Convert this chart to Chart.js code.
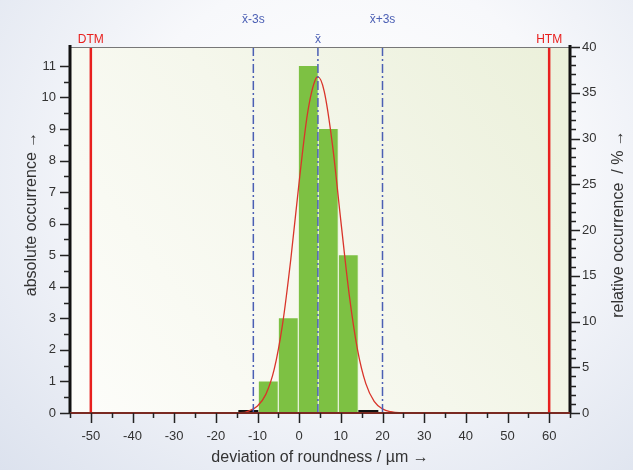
<!DOCTYPE html>
<html>
<head>
<meta charset="utf-8">
<script src="https://cdn.jsdelivr.net/npm/chart.js@4/dist/chart.umd.min.js"></script>
<style>
  html, body { margin: 0; padding: 0; }
  body {
    width: 633px; height: 470px; overflow: hidden;
    background: radial-gradient(ellipse at 55% 35%, #ffffff 0%, #f7f8fb 45%, #dce2ee 100%);
  }
  #wrap { position: relative; width: 633px; height: 470px; }
</style>
</head>
<body>
<div id="wrap"><canvas id="HistChart" width="633" height="470"></canvas></div>
<script>
// histogram classes (centre of bin, µm) and counts
var binCenters = [-7.4, -2.6, 2.2, 7.0, 11.8];
var binCounts = [1, 3, 11, 9, 5];

// fitted curve
var curveX = [-55, -14, -12, -10, -8, -6, -4, -2, 0, 2, 4, 4.5, 6, 8, 10, 12, 14, 16, 18, 20, 22, 24, 65];
var curveY = [0, 0.01, 0.07, 0.22, 0.59, 1.38, 2.8, 4.88, 7.33, 9.49, 10.6, 10.65, 10.2, 8.49, 6.09, 3.76, 2.01, 0.93, 0.37, 0.13, 0.04, 0.01, 0];

// empty classes drawn black on the base line
var emptyBins = [[-14.6, -9.8], [14.2, 19.0]];

// limits and statistics
var tolLabels = ['DTM', 'HTM'];
var tolValues = [-50, 60];
var statLabels = ['x\u0304-3s', 'x\u0304', 'x\u0304+3s'];
var statValues = [-11, 4.5, 20];

var xTickLabels = [-50, -40, -30, -20, -10, 0, 10, 20, 30, 40, 50, 60];
var yMax = 11.6;
var pctMax = 40;

var blue = '#4b5fb4';
var red = '#e8201e';
var fontFam = '"Liberation Sans", Arial, sans-serif';

function vline(x, col, dash, w) {
  return {
    type: 'line',
    data: [{x: x, y: 0}, {x: x, y: yMax}],
    borderColor: col,
    borderWidth: w,
    borderDash: dash,
    pointRadius: 0,
    yAxisID: 'y',
    order: 0
  };
}

var datasets = [];
datasets.push({
  type: 'bar',
  data: binCenters.map(function (c, i) { return {x: c, y: binCounts[i]}; }),
  backgroundColor: '#7dc143',
  borderColor: 'rgba(225,240,210,0.9)',
  borderWidth: {left: 1, right: 1, top: 0, bottom: 0},
  barPercentage: 1,
  categoryPercentage: 1,
  yAxisID: 'y',
  order: 3
});
emptyBins.forEach(function (b) {
  datasets.push({
    type: 'line',
    data: [{x: b[0], y: 0}, {x: b[1], y: 0}],
    borderColor: '#111',
    borderWidth: 6,
    pointRadius: 0,
    yAxisID: 'y',
    order: 2
  });
});
tolValues.forEach(function (v) { datasets.push(vline(v, red, [], 2.5)); });
statValues.forEach(function (v) { datasets.push(vline(v, blue, [9, 3, 2, 3], 1.5)); });
datasets.push({
  type: 'line',
  data: curveX.map(function (x, i) { return {x: x, y: curveY[i]}; }),
  borderColor: '#d9342a',
  borderWidth: 1.3,
  pointRadius: 0,
  tension: 0.4,
  cubicInterpolationMode: 'monotone',
  yAxisID: 'y',
  order: 1
});

function vtitle(ctx, text, x, y) {
  ctx.save();
  ctx.font = '16px ' + fontFam;
  ctx.fillStyle = '#333';
  ctx.textAlign = 'center';
  ctx.textBaseline = 'middle';
  ctx.translate(x, y);
  ctx.rotate(-Math.PI / 2);
  ctx.fillText(text, 0, 0);
  ctx.restore();
}

var decor = {
  id: 'decor',
  beforeDraw: function (chart) {
    var a = chart.chartArea, ctx = chart.ctx;
    var g = ctx.createLinearGradient(a.left, a.bottom, a.right, a.top);
    g.addColorStop(0, '#fdfdfa');
    g.addColorStop(0.5, '#f5f7ec');
    g.addColorStop(1, '#ebf0da');
    ctx.save();
    ctx.fillStyle = g;
    ctx.fillRect(a.left, a.top, a.right - a.left, a.bottom - a.top);
    ctx.restore();
  },
  afterDraw: function (chart) {
    var a = chart.chartArea, ctx = chart.ctx;
    var sx = chart.scales.x, sy = chart.scales.y, sp = chart.scales.yPct;
    ctx.save();
    // frame
    ctx.strokeStyle = '#777';
    ctx.lineWidth = 1;
    ctx.beginPath();
    ctx.moveTo(a.left, a.top + 0.5); ctx.lineTo(a.right, a.top + 0.5);
    ctx.stroke();
    ctx.strokeStyle = '#111';
    ctx.lineWidth = 3;
    ctx.beginPath();
    ctx.moveTo(a.left, a.top - 2); ctx.lineTo(a.left, a.bottom + 1);
    ctx.moveTo(a.right, a.top - 2); ctx.lineTo(a.right, a.bottom + 1);
    ctx.stroke();
    ctx.strokeStyle = '#7a2a22';
    ctx.lineWidth = 2;
    ctx.beginPath();
    ctx.moveTo(a.left, a.bottom); ctx.lineTo(a.right, a.bottom);
    ctx.stroke();
    // ticks
    ctx.strokeStyle = '#222';
    ctx.lineWidth = 1.5;
    ctx.beginPath();
    sy.ticks.forEach(function (t) {
      if (Math.abs(t.value * 2 - Math.round(t.value * 2)) > 1e-6) return;
      var p = Math.round(sy.getPixelForValue(t.value)) + 0.5;
      var len = Number.isInteger(t.value) ? 10 : 6;
      ctx.moveTo(a.left - len, p); ctx.lineTo(a.left, p);
    });
    sp.ticks.forEach(function (t) {
      var p = Math.round(sp.getPixelForValue(t.value)) + 0.5;
      var len = t.value % 5 === 0 ? 10 : 6;
      ctx.moveTo(a.right, p); ctx.lineTo(a.right + len, p);
    });
    sx.ticks.forEach(function (t) {
      var p = Math.round(sx.getPixelForValue(t.value)) + 0.5;
      var len = t.value % 10 === 0 ? 10 : 5;
      ctx.moveTo(p, a.bottom); ctx.lineTo(p, a.bottom + len);
    });
    ctx.stroke();
    // limit labels
    ctx.font = '12px ' + fontFam;
    ctx.textAlign = 'center';
    ctx.textBaseline = 'alphabetic';
    ctx.fillStyle = red;
    tolValues.forEach(function (v, i) {
      ctx.fillText(tolLabels[i], sx.getPixelForValue(v), a.top - 4);
    });
    ctx.fillStyle = blue;
    statValues.forEach(function (v, i) {
      var yy = i === 1 ? a.top - 4 : a.top - 24;
      ctx.fillText(statLabels[i], sx.getPixelForValue(v), yy);
    });
    ctx.restore();
    // axis titles, both reading upwards
    vtitle(ctx, 'absolute occurrence \u2192', 32, 214);
    vtitle(ctx, 'relative occurrence  / % \u2192', 619, 224);
  }
};

var tickFont = {family: fontFam, size: 13};
var titleFont = {family: fontFam, size: 16};

var config = {
  data: {datasets: datasets},
  options: {
    responsive: false,
    animation: false,
    events: [],
    layout: {padding: {top: 47, left: 0, right: 0, bottom: 0}},
    plugins: {legend: {display: false}, tooltip: {enabled: false}},
    scales: {
      x: {
        type: 'linear',
        min: -55,
        max: 65,
        offset: false,
        border: {display: false},
        grid: {display: true, drawOnChartArea: false, tickLength: 10, color: 'transparent'},
        ticks: {
          stepSize: 5,
          autoSkip: false,
          maxRotation: 0,
          color: '#333',
          font: tickFont,
          padding: 6,
          callback: function (v) { return xTickLabels.indexOf(v) >= 0 ? String(v) : ''; }
        },
        title: {display: true, text: 'deviation of roundness / \u00b5m \u2192', color: '#333', font: titleFont, padding: {top: 0, bottom: 3}},
        afterFit: function (s) { s.height = 57; }
      },
      y: {
        type: 'linear',
        position: 'left',
        min: 0,
        max: yMax,
        border: {display: false},
        grid: {display: true, drawOnChartArea: false, tickLength: 10, color: 'transparent'},
        ticks: {
          stepSize: 0.5,
          autoSkip: false,
          color: '#333',
          font: tickFont,
          padding: 4,
          callback: function (v) { return Number.isInteger(v) ? String(v) : ''; }
        },
        afterFit: function (s) { s.width = 70; }
      },
      yPct: {
        type: 'linear',
        position: 'right',
        min: 0,
        max: pctMax,
        border: {display: false},
        grid: {display: true, drawOnChartArea: false, tickLength: 10, color: 'transparent'},
        ticks: {
          stepSize: 1,
          autoSkip: false,
          color: '#333',
          font: tickFont,
          padding: 2,
          callback: function (v) { return v % 5 === 0 ? String(v) : ''; }
        },
        afterFit: function (s) { s.width = 63; }
      }
    }
  },
  plugins: [decor]
};

var ctx = document.getElementById('HistChart').getContext('2d');
window.histChart = new Chart(ctx, config);
</script>
</body>
</html>
